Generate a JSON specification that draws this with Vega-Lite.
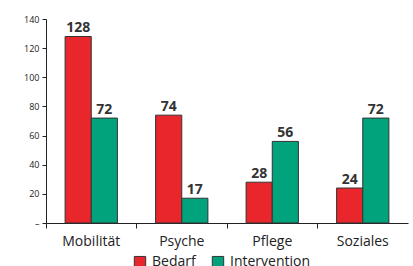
{
  "$schema": "https://vega.github.io/schema/vega-lite/v6.json",
  "width": 362,
  "height": 204,
  "autosize": "none",
  "padding": {"left": 46, "top": 19, "right": 5, "bottom": 43},
  "background": "white",
  "config": {"view": {"stroke": null}, "font": "Open Sans"},
  "data": {"values": [
    {"kategorie": "Mobilität", "gruppe": "Bedarf", "wert": 128},
    {"kategorie": "Mobilität", "gruppe": "Intervention", "wert": 72},
    {"kategorie": "Psyche", "gruppe": "Bedarf", "wert": 74},
    {"kategorie": "Psyche", "gruppe": "Intervention", "wert": 17},
    {"kategorie": "Pflege", "gruppe": "Bedarf", "wert": 28},
    {"kategorie": "Pflege", "gruppe": "Intervention", "wert": 56},
    {"kategorie": "Soziales", "gruppe": "Bedarf", "wert": 24},
    {"kategorie": "Soziales", "gruppe": "Intervention", "wert": 72}
  ]},
  "encoding": {
    "x": {"field": "kategorie", "type": "nominal", "sort": null,
      "scale": {"paddingInner": 0, "paddingOuter": 0},
      "axis": {"title": null, "labelAngle": 0, "bandPosition": 0, "labelFontSize": 14, "labelColor": "#222", "labelPadding": 6, "domainColor": "#222", "tickColor": "#222", "tickSize": 5, "labelFont": "Open Sans"}},
    "xOffset": {"field": "gruppe", "type": "nominal", "scale": {"paddingInner": 0, "paddingOuter": 0.73}},
    "y": {"field": "wert", "type": "quantitative",
      "scale": {"domain": [0, 140], "nice": false},
      "axis": {"title": null, "values": [0, 20, 40, 60, 80, 100, 120, 140], "grid": false, "labelExpr": "datum.value == 0 ? '–' : datum.label", "labelFontSize": 9, "labelColor": "#222", "domainColor": "#222", "tickColor": "#222", "tickSize": 4, "labelPadding": 3}}
  },
  "layer": [
    {"mark": {"type": "bar", "stroke": "#333", "strokeWidth": 1},
     "encoding": {"color": {"field": "gruppe", "type": "nominal",
        "scale": {"domain": ["Bedarf", "Intervention"], "range": ["#E8262B", "#00A37C"]},
        "legend": {"title": null, "orient": "none", "legendX": 87, "legendY": 236, "direction": "horizontal", "symbolType": "square", "symbolSize": 130, "symbolStrokeColor": "#333", "symbolStrokeWidth": 1, "labelFontSize": 14, "labelColor": "#222", "labelOffset": 5, "columnPadding": 14}}}},
    {"mark": {"type": "text", "dy": -8, "fontSize": 14, "fontWeight": "bold", "color": "#333"},
     "encoding": {"text": {"field": "wert", "type": "quantitative"}}}
  ]
}
